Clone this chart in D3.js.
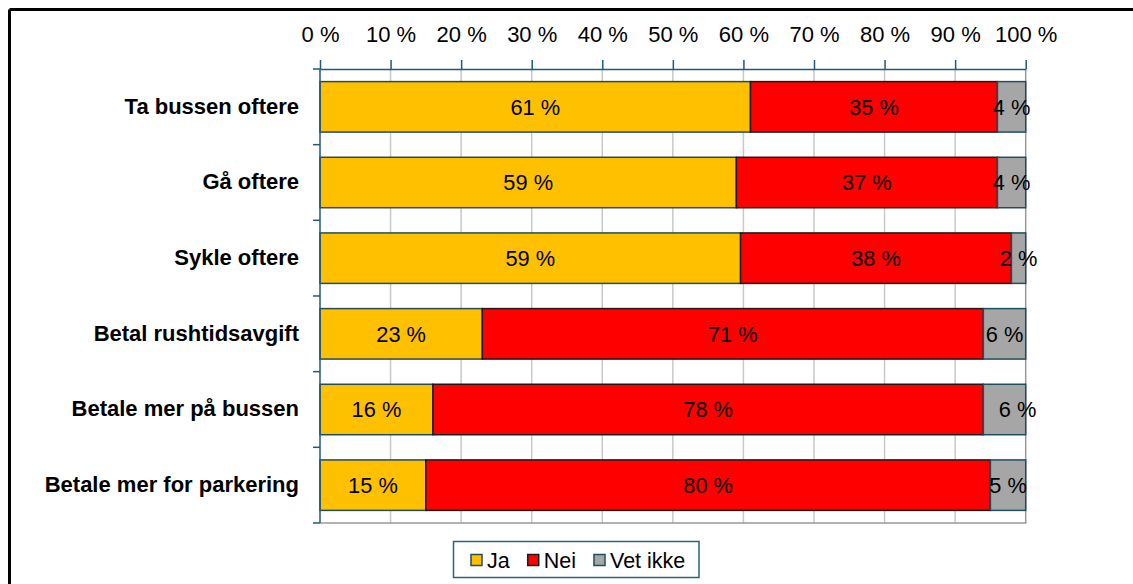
<!DOCTYPE html>
<html>
<head>
<meta charset="utf-8">
<script src="https://cdn.jsdelivr.net/npm/d3@7"></script>
<style>
  html, body { margin: 0; padding: 0; background: #fff; }
  svg { display: block; }
  text { font-family: Arial, "Liberation Sans", sans-serif; fill: #000; }
</style>
</head>
<body>
<svg id="chart" width="1133" height="584"></svg>
<script>
// ---- data ----
const categories = ["Ta bussen oftere", "Gå oftere", "Sykle oftere", "Betal rushtidsavgift", "Betale mer på bussen", "Betale mer for parkering"];
const seriesKeys = ["Ja", "Nei", "Vet ikke"];
const ja  = [61, 59, 59, 23, 16, 15];
const nei = [35, 37, 38, 71, 78, 80];
const vet = [4, 4, 2, 6, 6, 5];
const xTicks = [0, 0.1, 0.2, 0.3, 0.4, 0.5, 0.6, 0.7, 0.8, 0.9, 1.0];

const colors = { "Ja": "#FFC000", "Nei": "#FF0000", "Vet ikke": "#A6A6A6" };
const strokes = { "Ja": "#1F4E5F", "Nei": "#1a1a1a", "Vet ikke": "#1F4E5F" };

const rows = categories.map((c, i) => ({ cat: c, "Ja": ja[i], "Nei": nei[i], "Vet ikke": vet[i] }));

(function () {
const svg = d3.select("#chart");
const catFont = 22, tickFont = 22, labelFont = 21.8, legendFont = 21.5;
const pLeft = 320, pRight = 1025.7, pTop = 69, pBottom = 523;
const axisColor = "#215A78";

// outer frame (top and left)
svg.append("line").attr("x1", 9.5).attr("x2", 1133).attr("y1", 9.5).attr("y2", 9.5).attr("stroke", "#000").attr("stroke-width", 3);
svg.append("line").attr("x1", 9.5).attr("x2", 9.5).attr("y1", 9.5).attr("y2", 584).attr("stroke", "#000").attr("stroke-width", 3);

const x = d3.scaleLinear().domain([0, 1]).range([pLeft, pRight]);
const y = d3.scaleBand().domain(categories).range([pTop, pBottom]).paddingInner(0.333).paddingOuter(0.1667);

// gridlines
svg.append("g").selectAll("line").data(xTicks.slice(1)).join("line")
  .attr("x1", d => x(d)).attr("x2", d => x(d)).attr("y1", pTop).attr("y2", pBottom)
  .attr("stroke", d => d === 1 ? "#999" : "#C8C8C8").attr("stroke-width", 1.5);
// bottom plot border
svg.append("line").attr("x1", pLeft).attr("x2", pRight + 0.75).attr("y1", pBottom).attr("y2", pBottom)
  .attr("stroke", "#999").attr("stroke-width", 1.5);

// stacked bars
const stack = d3.stack().keys(seriesKeys).offset(d3.stackOffsetExpand);
const stacked = stack(rows);

const labelNudge = { "Betale mer på bussen|Vet ikke": 13 };

const gBars = svg.append("g");
stacked.forEach(s => {
  const key = s.key;
  gBars.append("g").selectAll("rect").data(s).join("rect")
    .attr("x", d => x(d[0]))
    .attr("y", d => y(d.data.cat))
    .attr("width", d => x(d[1]) - x(d[0]))
    .attr("height", y.bandwidth())
    .attr("fill", colors[key])
    .attr("stroke", strokes[key])
    .attr("stroke-width", 1.5);
});
stacked.forEach(s => {
  const key = s.key;
  gBars.append("g").selectAll("text").data(s).join("text")
    .attr("x", d => (x(d[0]) + x(d[1])) / 2 + (labelNudge[d.data.cat + "|" + key] || 0))
    .attr("y", d => y(d.data.cat) + y.bandwidth() / 2)
    .attr("dy", "0.36em")
    .attr("text-anchor", "middle")
    .attr("font-size", labelFont)
    .text(d => d.data[key] + " %");
});

// top axis
const axis = d3.axisTop(x).tickValues(xTicks).tickSize(9).tickSizeOuter(0).tickPadding(18)
  .tickFormat(d => Math.round(d * 100) + " %");
const gAxis = svg.append("g").attr("transform", `translate(0,${pTop})`).call(axis);
gAxis.select(".domain").attr("stroke", axisColor).attr("stroke-width", 1.5);
gAxis.selectAll(".tick line").attr("stroke", axisColor).attr("stroke-width", 1.5);
gAxis.selectAll(".tick text").attr("font-size", tickFont).attr("font-family", "Arial, 'Liberation Sans', sans-serif").attr("fill", "#000");

// left category axis
svg.append("line").attr("x1", pLeft).attr("x2", pLeft).attr("y1", pTop).attr("y2", pBottom)
  .attr("stroke", axisColor).attr("stroke-width", 1.5);
const step = y.step();
svg.append("g").selectAll("line").data(d3.range(categories.length + 1)).join("line")
  .attr("x1", pLeft - 7).attr("x2", pLeft).attr("y1", i => pTop + i * step).attr("y2", i => pTop + i * step)
  .attr("stroke", axisColor).attr("stroke-width", 1.5);
svg.append("g").selectAll("text").data(categories).join("text")
  .attr("x", 299).attr("y", d => y(d) + y.bandwidth() / 2).attr("dy", "0.31em")
  .attr("text-anchor", "end").attr("font-size", catFont).attr("font-weight", "bold")
  .text(d => d);

// legend
const lg = svg.append("g");
lg.append("rect").attr("x", 453.5).attr("y", 541.5).attr("width", 245.5).attr("height", 36)
  .attr("fill", "#fff").attr("stroke", "#2A6478").attr("stroke-width", 1.5);
let lx = 471;
seriesKeys.forEach(k => {
  lg.append("rect").attr("x", lx).attr("y", 554.5).attr("width", 11).attr("height", 11)
    .attr("fill", colors[k]).attr("stroke", strokes[k]).attr("stroke-width", 1.5);
  const t = lg.append("text").attr("x", lx + 16).attr("y", 568).attr("font-size", legendFont).text(k);
  lx = lx + 16 + t.node().getComputedTextLength() + 18;
});
})();
</script>
</body>
</html>
